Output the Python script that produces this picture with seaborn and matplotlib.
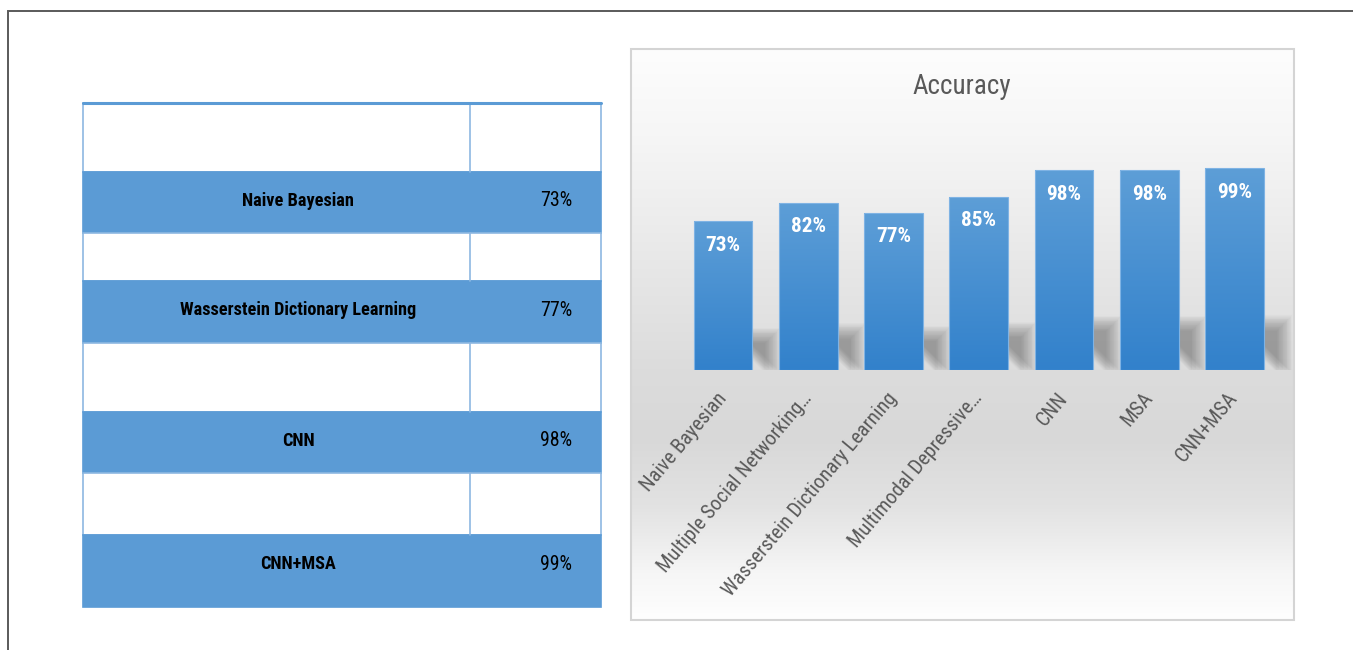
import numpy as np
import pandas as pd
import matplotlib
matplotlib.use("Agg")
import matplotlib.pyplot as plt
from matplotlib import font_manager
from matplotlib.colors import LinearSegmentedColormap
from matplotlib.patches import Rectangle, Polygon
import seaborn as sns

# ---------------- data ----------------
methods = ["Naive Bayesian", "Multiple Social Networking…", "Wasserstein Dictionary Learning",
           "Multimodal Depressive…", "CNN", "MSA", "CNN+MSA"]
accuracy = [73, 82, 77, 85, 98, 98, 99]

table_methods = ["", "Naive Bayesian", "", "Wasserstein Dictionary Learning", "", "CNN", "", "CNN+MSA"]
table_values = ["", "73%", "", "77%", "", "98%", "", "99%"]
chart_title = "Accuracy"

# ---------------- layout (pixels) ----------------
W, H, DPI = 1353, 650, 100
row_edges = [103, 172, 233, 281, 343, 412, 473, 535, 607]
tx0, tx1, tx2 = 83, 470, 601
box = (631, 49, 1294, 620)
c0, step, base, upx = 723, 85.25, 370, 2.04

sns.set_theme(style="white")
avail = {f.name for f in font_manager.fontManager.ttflist}
FONT = "Liberation Sans"
for cand in ["Liberation Sans Narrow", "Roboto Condensed", "Open Sans Condensed", "Lato"]:
    if cand in avail:
        FONT = cand
        break
plt.rcParams["font.family"] = [FONT, "DejaVu Sans"]

fig = plt.figure(figsize=(W / DPI, H / DPI), dpi=DPI)
fig.patch.set_facecolor("white")
renderer = fig.canvas.get_renderer()


def fit_size(text, target_px, weight="normal", ref=12.0):
    t = fig.text(0, 0, text, fontsize=ref, fontweight=weight)
    w = t.get_window_extent(renderer=renderer).width
    t.remove()
    return ref * target_px / w


FS_TITLE = fit_size("Accuracy", 98)
FS_TAB_LAB = fit_size("Naive Bayesian", 112, "bold")
FS_TAB_VAL = fit_size("73%", 32)
FS_BAR = fit_size("73%", 35, "bold")
FS_TICK = fit_size("Wasserstein Dictionary Learning", 258)

# overlay axes in pixel coordinates
bg = fig.add_axes([0, 0, 1, 1], zorder=0)
bg.axis("off")

# outer frame
bg.plot([8, 8, W], [H, 11, 11], color="#5a5a5a", lw=1.4, solid_capstyle="butt", solid_joinstyle="miter")

# ---------------- table ----------------
blue = "#5B9BD5"
edge_blue = "#8DB8E2"
for i, (lab, val) in enumerate(zip(table_methods, table_values)):
    top, bot = row_edges[i], row_edges[i + 1]
    shaded = bool(lab)
    bg.add_patch(Rectangle((tx0, top), tx2 - tx0, bot - top,
                           facecolor=blue if shaded else "white",
                           edgecolor=blue if shaded else edge_blue, lw=1.2, zorder=1))
    if not shaded:
        bg.plot([tx1, tx1], [top, bot], color=edge_blue, lw=1.2, zorder=2)
    bg.text(298, top + 29, lab, ha="center", va="center", fontweight="bold",
            fontsize=FS_TAB_LAB, color="black", zorder=3)
    bg.text(556, top + 29, val, ha="center", va="center",
            fontsize=FS_TAB_VAL, color="black", zorder=3)
bg.plot([tx0, tx2], [row_edges[0], row_edges[0]], color=blue, lw=2.2, zorder=3)

# ---------------- chart box ----------------
bx0, by0, bx1, by1 = box
cmap_bg = LinearSegmentedColormap.from_list(
    "bgc", [(0.0, "#fdfdfd"), (0.15, "#f6f6f6"), (0.4, "#e6e6e6"), (0.56, "#dcdcdc"),
            (0.68, "#d8d8d8"), (0.8, "#e2e2e2"), (0.92, "#f6f6f6"), (1.0, "#fefefe")])
bg.imshow(np.linspace(0, 1, 256).reshape(-1, 1), extent=[bx0, bx1, by1, by0],
          cmap=cmap_bg, aspect="auto", origin="upper", zorder=0.5)
bg.add_patch(Rectangle((bx0, by0), bx1 - bx0, by1 - by0, fill=False,
                       edgecolor="#d4d4d4", lw=1.5, zorder=1))
bg.text((bx0 + bx1) / 2 - 1, 86, chart_title, ha="center", va="center",
        fontsize=FS_TITLE, color="#595959", zorder=3)
bg.set_xlim(0, W)
bg.set_ylim(H, 0)

# ---------------- bar chart ----------------
n = len(methods)
ax_left = c0 - step / 2
ax = fig.add_axes([ax_left / W, (H - base) / H, step * n / W, 100 * upx / H], zorder=2)
ax.patch.set_alpha(0)
df = pd.DataFrame({"method": methods, "accuracy": accuracy})
sns.barplot(data=df, x="method", y="accuracy", order=methods, ax=ax, color="#4a90d6",
            width=0.69, saturation=1, edgecolor="#7fb3e4", linewidth=0.8)
bars = list(ax.patches)

px_x = 1.0 / step   # one pixel in x data units
px_y = 1.0 / upx    # one pixel in y data units
cmap_bar = LinearSegmentedColormap.from_list("bar", ["#5d9ed7", "#3281cb"])
for p, v in zip(bars, accuracy):
    x0, w, h = p.get_x(), p.get_width(), p.get_height()
    x1 = x0 + w
    # gradient fill
    im = ax.imshow(np.linspace(0, 1, 128).reshape(-1, 1), extent=[x0, x1, 0, h],
                   cmap=cmap_bar, aspect="auto", origin="upper", zorder=3)
    im.set_clip_path(p)
    p.set_facecolor("none")
    p.set_zorder(4)
    # soft perspective shadow cast to the right, sheared bottom edge
    sh_px = 0.235 * h / px_y
    N = 20
    for k in range(N):
        e = (k - N / 2) * 0.8  # pixel inflation for blur
        she = sh_px + e
        xr = 21 + e
        xb = 18 + e
        poly = [(x1 + (xb - she) * px_x, she * px_y),
                (x1 + xr * px_x, she * px_y),
                (x1 + xr * px_x, 0),
                (x1 + xb * px_x, 0)]
        ax.add_patch(Polygon(poly, closed=True, facecolor="black", alpha=0.016,
                             lw=0, zorder=2, clip_on=False))
    ax.annotate(f"{v}%", (x0 + w / 2, h), xytext=(0, -24), textcoords="offset pixels",
                ha="center", va="center", color="white", fontweight="bold",
                fontsize=FS_BAR, zorder=5)

ax.set_xlim(-0.5, n - 0.5)
ax.set_ylim(0, 100)
ax.set_yticks([])
ax.set_xticks(range(n))
ax.set_xticklabels(methods, rotation=50, ha="right", va="center", rotation_mode="anchor",
                   color="#595959", fontsize=FS_TICK)
ax.tick_params(axis="x", length=0, pad=18)
ax.set_xlabel("")
ax.set_ylabel("")
for s in ax.spines.values():
    s.set_visible(False)

fig.savefig("out.png", dpi=DPI)
